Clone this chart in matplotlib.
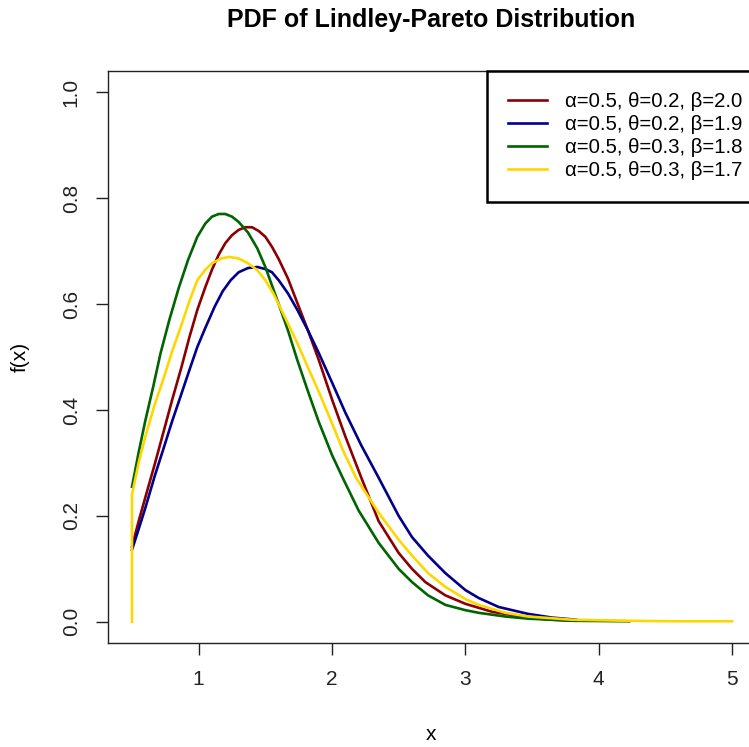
import matplotlib
matplotlib.use("Agg")
import matplotlib.pyplot as plt

plt.rcParams['font.family'] = ['Liberation Sans', 'DejaVu Sans']

# Sample data
labels = ['α=0.5, θ=0.2, β=2.0', 'α=0.5, θ=0.2, β=1.9',
          'α=0.5, θ=0.3, β=1.8', 'α=0.5, θ=0.3, β=1.7']
colors = ['#8B0000', '#00008B', '#006400', '#FFD700']

x_red = [0.5, 0.55, 0.6, 0.67, 0.74, 0.8, 0.87, 0.93, 0.99, 1.05, 1.1, 1.15, 1.2,
         1.25, 1.3, 1.35, 1.4, 1.45, 1.5, 1.55, 1.6, 1.67, 1.74, 1.82, 1.9, 2.0,
         2.1, 2.22, 2.35, 2.5, 2.6, 2.7, 2.85, 3.0, 3.2, 3.47, 3.65, 3.83]
y_red = [0.142, 0.19, 0.235, 0.297, 0.362, 0.418, 0.48, 0.537, 0.589, 0.632,
         0.665, 0.693, 0.715, 0.73, 0.74, 0.745, 0.745, 0.738, 0.727, 0.708,
         0.685, 0.648, 0.602, 0.55, 0.495, 0.42, 0.35, 0.272, 0.19, 0.13, 0.1,
         0.075, 0.05, 0.034, 0.019, 0.008, 0.004, 0.002]

x_blue = [0.5, 0.55, 0.6, 0.67, 0.74, 0.8, 0.87, 0.93, 0.99, 1.05, 1.12, 1.18,
          1.24, 1.3, 1.37, 1.44, 1.5, 1.55, 1.6, 1.67, 1.74, 1.82, 1.9, 2.0, 2.1,
          2.22, 2.35, 2.5, 2.6, 2.72, 2.85, 3.0, 3.1, 3.25, 3.47, 3.65, 3.83]
y_blue = [0.136, 0.175, 0.215, 0.275, 0.33, 0.378, 0.43, 0.475, 0.519, 0.555,
          0.595, 0.624, 0.645, 0.66, 0.668, 0.67, 0.666, 0.66, 0.645, 0.62, 0.589,
          0.55, 0.508, 0.452, 0.395, 0.333, 0.272, 0.2, 0.16, 0.125, 0.092, 0.06,
          0.045, 0.028, 0.015, 0.008, 0.004]

x_green = [0.5, 0.55, 0.6, 0.66, 0.714, 0.78, 0.85, 0.92, 0.99, 1.05, 1.1, 1.15,
           1.2, 1.25, 1.3, 1.37, 1.44, 1.5, 1.59, 1.67, 1.74, 1.82, 1.9, 2.0, 2.08,
           2.2, 2.35, 2.5, 2.6, 2.72, 2.85, 3.0, 3.1, 3.3, 3.47, 3.8, 4.23]
y_green = [0.255, 0.32, 0.38, 0.445, 0.507, 0.57, 0.63, 0.683, 0.727, 0.752,
           0.765, 0.77, 0.77, 0.765, 0.755, 0.735, 0.705, 0.67, 0.607, 0.55, 0.494,
           0.435, 0.378, 0.315, 0.272, 0.21, 0.149, 0.1, 0.075, 0.05, 0.032, 0.022,
           0.017, 0.01, 0.006, 0.002, 0.001]

x_yellow = [0.5, 0.5, 0.55, 0.6, 0.67, 0.74, 0.8, 0.87, 0.93, 0.99, 1.05, 1.1,
            1.17, 1.23, 1.3, 1.37, 1.44, 1.5, 1.56, 1.62, 1.68, 1.74, 1.82, 1.9,
            2.0, 2.08, 2.18, 2.35, 2.5, 2.6, 2.72, 2.85, 3.0, 3.1, 3.3, 3.47, 3.8,
            4.2, 4.6, 5.0]
y_yellow = [0.0, 0.24, 0.3, 0.35, 0.41, 0.462, 0.51, 0.56, 0.605, 0.645, 0.665,
            0.677, 0.686, 0.689, 0.686, 0.677, 0.664, 0.645, 0.62, 0.589, 0.558,
            0.526, 0.48, 0.435, 0.375, 0.325, 0.272, 0.206, 0.155, 0.125, 0.092,
            0.066, 0.043, 0.032, 0.017, 0.01, 0.004, 0.002, 0.001, 0.001]

series = [(x_red, y_red), (x_blue, y_blue), (x_green, y_green), (x_yellow, y_yellow)]

fig = plt.figure(figsize=(7.49, 7.47), dpi=100)
W, H = 749, 747
ax = fig.add_axes([108 / W, (H - 643) / H, 648 / W, 572 / H])

for (xs, ys), c, lab in zip(series, colors, labels):
    ax.plot(xs, ys, color=c, lw=1.9, label=lab)

ax.set_xlim(0.32, 5.18)
ax.set_ylim(-0.04, 1.04)
ax.set_xticks([1, 2, 3, 4, 5])
ax.set_yticks([0.0, 0.2, 0.4, 0.6, 0.8, 1.0])
ax.set_yticklabels(['0.0', '0.2', '0.4', '0.6', '0.8', '1.0'], rotation=90, va='center')
ax.tick_params(direction='out', length=8.6, width=1, labelsize=15, pad=11, colors='#222222')
for s in ax.spines.values():
    s.set_linewidth(1)
    s.set_color('#222222')

# Title and labels
fig.text(431 / W, 1 - 20 / H, 'PDF of Lindley-Pareto Distribution',
         ha='center', va='center', fontsize=18, fontweight='bold')
fig.text(431 / W, 1 - 735 / H, 'x', ha='center', va='center', fontsize=15)
fig.text(20 / W, 1 - 357 / H, 'f(x)', ha='center', va='center', rotation=90, fontsize=15)

leg = ax.legend(loc='upper right', bbox_to_anchor=(1 + 8 / 648, 1), borderaxespad=0,
                fancybox=False, framealpha=1, edgecolor='black', fontsize=14.7,
                handlelength=1.9, handletextpad=0.88, labelspacing=0.19, borderpad=1.05)
leg.get_frame().set_linewidth(1.8)

plt.savefig('out.png', dpi=100)
